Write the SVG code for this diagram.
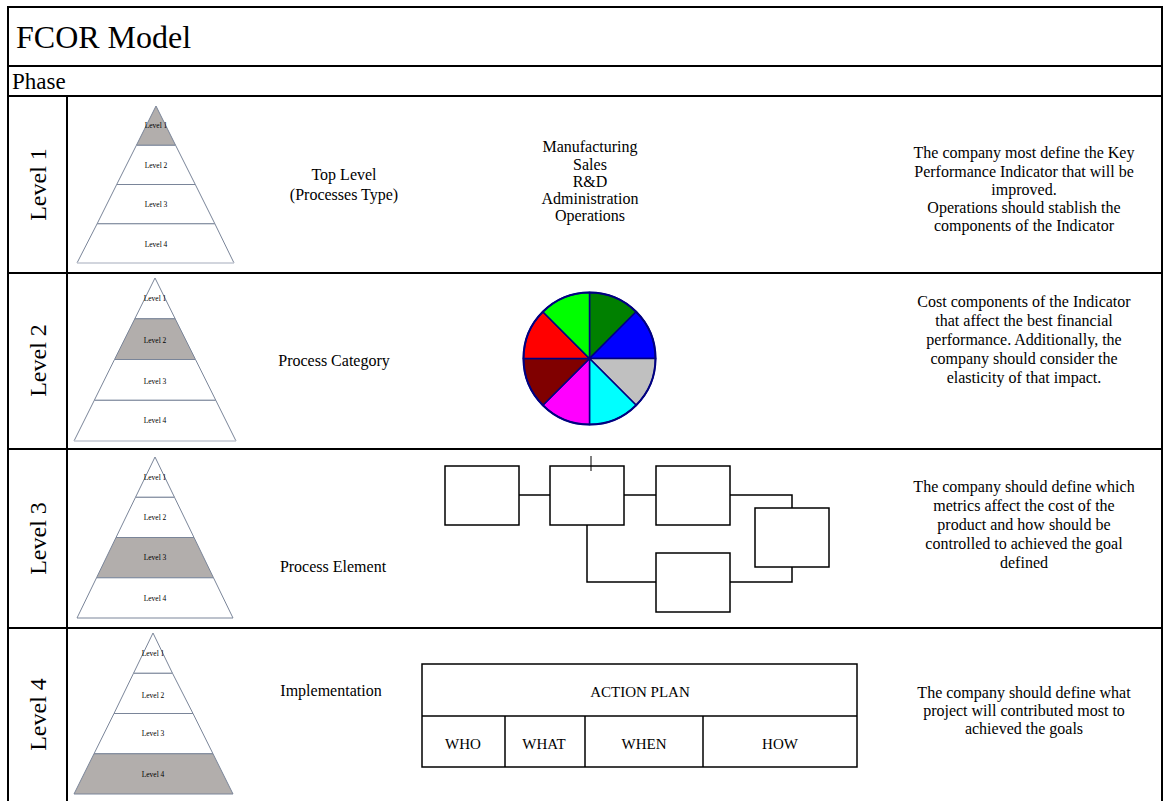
<svg xmlns="http://www.w3.org/2000/svg" width="1163" height="801" viewBox="0 0 1163 801">
<style>
text{font-family:"Liberation Serif","Times New Roman",serif;fill:#000}
.grid{stroke:#000;stroke-width:2;fill:none}
.t16{font-size:16px;text-anchor:middle}
.t15{font-size:15px;text-anchor:middle}
.lv{font-size:24px;text-anchor:middle}
.pl{font-size:7.5px;text-anchor:middle}
.py{fill:#fff;stroke:#7a8599;stroke-width:1}
.pys{fill:#b2aeac;stroke:#7a8599;stroke-width:1}
.box{fill:#fff;stroke:#000;stroke-width:1.5}
.con{fill:none;stroke:#000;stroke-width:1.5}
.sl{stroke:#000080;stroke-width:1.5}
</style>
<rect x="0" y="0" width="1163" height="801" fill="#fff"/>
<g id="frame">
<path class="grid" d="M8,801 V7 H1162 V801"/>
<line class="grid" x1="8" y1="66" x2="1163" y2="66"/>
<line class="grid" x1="8" y1="96" x2="1163" y2="96"/>
<line class="grid" x1="8" y1="273" x2="1163" y2="273"/>
<line class="grid" x1="8" y1="449" x2="1163" y2="449"/>
<line class="grid" x1="8" y1="628" x2="1163" y2="628"/>
<line class="grid" x1="67" y1="96" x2="67" y2="801"/>
<text x="16" y="48" style="font-size:32px">FCOR Model</text>
<text x="12" y="89" style="font-size:23px">Phase</text>
</g>
<g id="row-labels">
<text class="lv" transform="translate(46,184.5) rotate(-90)">Level 1</text>
<text class="lv" transform="translate(46,360.5) rotate(-90)">Level 2</text>
<text class="lv" transform="translate(46,538.5) rotate(-90)">Level 3</text>
<text class="lv" transform="translate(46,714.5) rotate(-90)">Level 4</text>
</g>
<g id="pyramid1">
<polygon class="pys" points="156,106 136.4,145.3 175.6,145.3"/>
<polygon class="py" points="136.4,145.3 175.6,145.3 195.3,184.5 116.7,184.5"/>
<polygon class="py" points="116.7,184.5 195.3,184.5 214.9,223.8 97.1,223.8"/>
<polygon class="py" points="97.1,223.8 214.9,223.8 234,263 77,263" style="stroke-linejoin:round"/>
<line x1="77" y1="263" x2="234" y2="263" stroke="#e6e8ee" stroke-width="1"/>
<text class="pl" x="156" y="127.5">Level 1</text>
<text class="pl" x="156" y="167.5">Level 2</text>
<text class="pl" x="156" y="206.5">Level 3</text>
<text class="pl" x="156" y="246.5">Level 4</text>
</g>
<g id="pyramid2">
<polygon class="py" points="155,278 134.8,318.8 175.2,318.8"/>
<polygon class="pys" points="134.8,318.8 175.2,318.8 195.5,359.5 114.5,359.5"/>
<polygon class="py" points="114.5,359.5 195.5,359.5 215.8,400.3 94.3,400.3"/>
<polygon class="py" points="94.3,400.3 215.8,400.3 236,441 74,441"/>
<line x1="74" y1="441" x2="236" y2="441" stroke="#e6e8ee" stroke-width="1"/>
<text class="pl" x="155" y="300.5">Level 1</text>
<text class="pl" x="155" y="342.5">Level 2</text>
<text class="pl" x="155" y="383.5">Level 3</text>
<text class="pl" x="155" y="422.5">Level 4</text>
</g>
<g id="pyramid3">
<polygon class="py" points="155,457 135.5,497.3 174.5,497.3"/>
<polygon class="py" points="135.5,497.3 174.5,497.3 194,537.5 116,537.5"/>
<polygon class="pys" points="116,537.5 194,537.5 213.5,577.8 96.5,577.8"/>
<polygon class="py" points="96.5,577.8 213.5,577.8 233,618 77,618"/>
<text class="pl" x="155" y="479.5">Level 1</text>
<text class="pl" x="155" y="519.5">Level 2</text>
<text class="pl" x="155" y="559.5">Level 3</text>
<text class="pl" x="155" y="600.5">Level 4</text>
</g>
<g id="pyramid4">
<polygon class="py" points="153,633 133.5,673.3 172.5,673.3"/>
<polygon class="py" points="133.5,673.3 172.5,673.3 193,713.5 114,713.5"/>
<polygon class="py" points="114,713.5 193,713.5 213,753.8 94,753.8"/>
<polygon class="pys" points="94,753.8 213,753.8 233,794 74,794"/>
<text class="pl" x="153" y="655.5">Level 1</text>
<text class="pl" x="153" y="697.5">Level 2</text>
<text class="pl" x="153" y="735.5">Level 3</text>
<text class="pl" x="153" y="776.5">Level 4</text>
</g>
<g id="type-labels">
<text class="t16" x="344" y="180">Top Level</text>
<text class="t16" x="344" y="200">(Processes Type)</text>
<text class="t16" x="334" y="366">Process Category</text>
<text class="t16" x="333" y="572">Process Element</text>
<text class="t16" x="331" y="696">Implementation</text>
</g>
<g id="process-list">
<text class="t16" x="590" y="152">Manufacturing</text>
<text class="t16" x="590" y="169.5">Sales</text>
<text class="t16" x="590" y="187">R&amp;D</text>
<text class="t16" x="590" y="204">Administration</text>
<text class="t16" x="590" y="221">Operations</text>
</g>
<g id="pie" transform="translate(589.5,358.5)">
<path d="M0,0 L0,-66 A66,66 0 0 1 46.67,-46.67 Z" fill="#008000" class="sl"/>
<path d="M0,0 L46.67,-46.67 A66,66 0 0 1 66,0 Z" fill="#0000ff" class="sl"/>
<path d="M0,0 L66,0 A66,66 0 0 1 46.67,46.67 Z" fill="#c0c0c0" class="sl"/>
<path d="M0,0 L46.67,46.67 A66,66 0 0 1 0,66 Z" fill="#00ffff" class="sl"/>
<path d="M0,0 L0,66 A66,66 0 0 1 -46.67,46.67 Z" fill="#ff00ff" class="sl"/>
<path d="M0,0 L-46.67,46.67 A66,66 0 0 1 -66,0 Z" fill="#800000" class="sl"/>
<path d="M0,0 L-66,0 A66,66 0 0 1 -46.67,-46.67 Z" fill="#ff0000" class="sl"/>
<path d="M0,0 L-46.67,-46.67 A66,66 0 0 1 0,-66 Z" fill="#00ff00" class="sl"/>
<circle r="66" fill="none" stroke="#000080" stroke-width="2"/>
</g>
<g id="connectors">
<line class="con" x1="519" y1="495" x2="550" y2="495"/>
<line class="con" x1="624" y1="495" x2="656" y2="495"/>
<polyline class="con" points="730,495 792,495 792,508"/>
<polyline class="con" points="587,525 587,582 656,582"/>
<polyline class="con" points="730,582 792,582 792,567"/>
</g>
<g id="flow-boxes">
<rect id="boxA" class="box" x="445" y="466" width="74" height="59"/>
<rect id="boxB" class="box" x="550" y="466" width="74" height="59"/>
<rect id="boxC" class="box" x="656" y="466" width="74" height="59"/>
<rect id="boxD" class="box" x="755" y="508" width="74" height="59"/>
<rect id="boxE" class="box" x="656" y="553" width="74" height="59"/>
<line x1="591" y1="456" x2="591" y2="471" stroke="#000" stroke-width="1"/>
</g>
<g id="action-plan">
<rect class="box" x="422" y="664" width="435" height="103"/>
<line class="con" x1="422" y1="716" x2="857" y2="716"/>
<line class="con" x1="505" y1="716" x2="505" y2="767"/>
<line class="con" x1="585" y1="716" x2="585" y2="767"/>
<line class="con" x1="703" y1="716" x2="703" y2="767"/>
<text class="t15" x="640" y="697">ACTION PLAN</text>
<text class="t15" x="463" y="749">WHO</text>
<text class="t15" x="544" y="749">WHAT</text>
<text class="t15" x="644" y="749">WHEN</text>
<text class="t15" x="780" y="749">HOW</text>
</g>
<g id="desc1">
<text class="t16" x="1024" y="158">The company most define the Key</text>
<text class="t16" x="1024" y="176.5">Performance Indicator that will be</text>
<text class="t16" x="1024" y="194.5">improved.</text>
<text class="t16" x="1024" y="212.5">Operations should stablish the</text>
<text class="t16" x="1024" y="231">components of the Indicator</text>
</g>
<g id="desc2">
<text class="t16" x="1024" y="307">Cost components of the Indicator</text>
<text class="t16" x="1024" y="326">that affect the best financial</text>
<text class="t16" x="1024" y="345">performance. Additionally, the</text>
<text class="t16" x="1024" y="364">company should consider the</text>
<text class="t16" x="1024" y="383">elasticity of that impact.</text>
</g>
<g id="desc3">
<text class="t16" x="1024" y="492">The company should define which</text>
<text class="t16" x="1024" y="511">metrics affect the cost of the</text>
<text class="t16" x="1024" y="530">product and how should be</text>
<text class="t16" x="1024" y="549">controlled to achieved the goal</text>
<text class="t16" x="1024" y="568">defined</text>
</g>
<g id="desc4">
<text class="t16" x="1024" y="698">The company should define what</text>
<text class="t16" x="1024" y="716">project will contributed most to</text>
<text class="t16" x="1024" y="734">achieved the goals</text>
</g>
</svg>
